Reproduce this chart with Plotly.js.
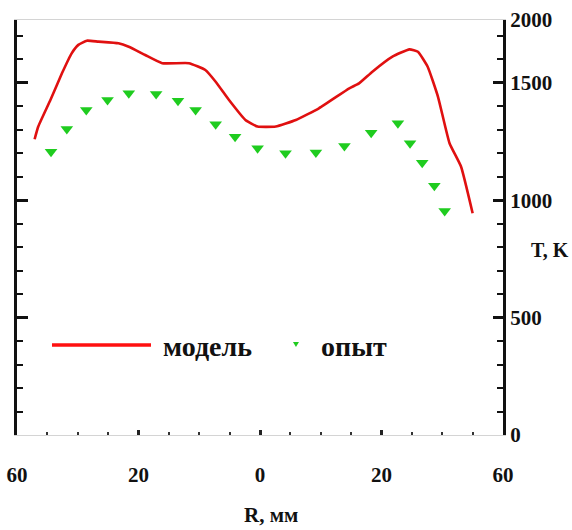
<!DOCTYPE html>
<html>
<head>
<meta charset="utf-8">
<script src="https://cdn.plot.ly/plotly-3.0.1.min.js"></script>
<style>html,body{margin:0;padding:0;background:#fff;}#chart{width:572px;height:530px;}</style>
</head>
<body>
<div id="chart"></div>
<script>
// Model curve (R position, T in K)
const modelR = [-37.1,-36.5,-34.5,-32.6,-31.0,-29.9,-28.5,-26.6,-23.3,-21.6,-18.9,-16.1,-11.7,-9.0,-7.3,-5.1,-2.4,-0.4,2.6,5.9,9.7,14.7,16.3,18.5,21.8,24.6,26.0,27.6,29.3,31.2,33.1,35.0];
const modelT = [1260,1314,1427,1541,1626,1662,1680,1676,1669,1654,1619,1584,1584,1555,1505,1427,1342,1314,1314,1342,1392,1477,1498,1548,1612,1643,1633,1569,1441,1243,1143,945];
// Experiment points
const expR = [-34.4,-31.8,-28.6,-25.1,-21.6,-17.1,-13.5,-10.6,-7.3,-4.1,-0.4,4.2,9.2,13.9,18.3,22.7,24.7,26.7,28.7,30.4];
const expT = [1207,1304,1385,1427,1456,1453,1424,1385,1324,1271,1222,1200,1203,1231,1288,1328,1243,1160,1062,954];
// Tick labels
const xTickVals = [-40,-20,0,20,40];
const xTickText = ['60','20','0','20','60'];
const yTickVals = [0,500,1000,1500,1768];
const yTickText = ['0','500','1000','1500','2000'];
const legendNames = ['модель','опыт'];

const FONT = 'Liberation Serif, Times New Roman, serif';
const yRange = [0, 1768];

const traces = [
  {x: modelR, y: modelT, type: 'scatter', mode: 'lines', name: legendNames[0],
   line: {color: '#e01010', width: 2.6, shape: 'spline', smoothing: 0.4}, yaxis: 'y', hoverinfo: 'skip'},
  {x: expR, y: expT, type: 'scatter', mode: 'markers', name: legendNames[1],
   marker: {symbol: 'triangle-down', size: 11, color: '#1fcc1f'}, yaxis: 'y2', hoverinfo: 'skip'}
];

const minorY = {tickmode: 'linear', tick0: 0, dtick: 100, ticks: 'inside', ticklen: 6, tickwidth: 2, tickcolor: '#111'};

const layout = {
  width: 572, height: 530,
  margin: {l: 17, r: 69, t: 20, b: 95},
  paper_bgcolor: '#fff', plot_bgcolor: '#fff',
  showlegend: false,
  font: {family: FONT, color: '#111'},
  xaxis: {
    range: [-40, 40], tickmode: 'array', tickvals: xTickVals, ticktext: xTickText,
    showgrid: false, zeroline: false, showline: true, linecolor: '#d4d4d4', linewidth: 1, mirror: true,
    ticks: 'inside', ticklen: 5, tickwidth: 3, tickcolor: '#222',
    minor: {tickmode: 'linear', tick0: 0, dtick: 5, ticks: 'inside', ticklen: 3, tickwidth: 2, tickcolor: '#333'},
    tickfont: {family: FONT, size: 21, color: '#111', weight: 'bold'},
    ticklabelstandoff: 21
  },
  yaxis: {
    range: yRange, side: 'right', tickmode: 'array', tickvals: yTickVals, ticktext: yTickText,
    showgrid: false, zeroline: false, showline: true, linecolor: '#111', linewidth: 3,
    ticks: 'inside', ticklen: 10, tickwidth: 3, tickcolor: '#111',
    minor: minorY,
    tickfont: {family: FONT, size: 21, color: '#111', weight: 'bold'}
  },
  yaxis2: {
    range: yRange, overlaying: 'y', side: 'left', tickmode: 'array', tickvals: [500,1000,1500],
    showticklabels: false, showgrid: false, zeroline: false, showline: true, linecolor: '#111', linewidth: 3,
    ticks: 'inside', ticklen: 11, tickwidth: 3, tickcolor: '#111',
    minor: minorY
  },
  shapes: [
    {type: 'line', xref: 'paper', yref: 'paper', x0: 0.072, x1: 0.2757, y0: 0.2169, y1: 0.2169,
     line: {color: '#ff1010', width: 3.5}},
    {type: 'path', xref: 'paper', yref: 'paper', xsizemode: 'pixel', ysizemode: 'pixel',
     xanchor: 0.574, yanchor: 0.2193, path: 'M -3 2 L 3 2 L 0 -3 Z',
     fillcolor: '#1fcc1f', line: {width: 0}}
  ],
  annotations: [
    {text: legendNames[0], xref: 'paper', yref: 'paper', x: 0.2963, y: 0.214, xanchor: 'left', yanchor: 'middle',
     showarrow: false, font: {family: FONT, size: 28, color: '#111', weight: 'bold'}},
    {text: legendNames[1], xref: 'paper', yref: 'paper', x: 0.6214, y: 0.214, xanchor: 'left', yanchor: 'middle',
     showarrow: false, font: {family: FONT, size: 28, color: '#111', weight: 'bold'}},
    {text: 'R, мм', xref: 'paper', yref: 'paper', x: 0.523, y: -0.193, xanchor: 'center', yanchor: 'middle',
     showarrow: false, font: {family: FONT, size: 21, color: '#111', weight: 'bold'}},
    {text: 'T, K', xref: 'paper', yref: 'paper', x: 1.0, xshift: 47, y: 0.446, xanchor: 'center', yanchor: 'middle',
     showarrow: false, font: {family: FONT, size: 20, color: '#111', weight: 'bold'}}
  ]
};

Plotly.newPlot('chart', traces, layout, {staticPlot: true, displayModeBar: false});
</script>
</body>
</html>
